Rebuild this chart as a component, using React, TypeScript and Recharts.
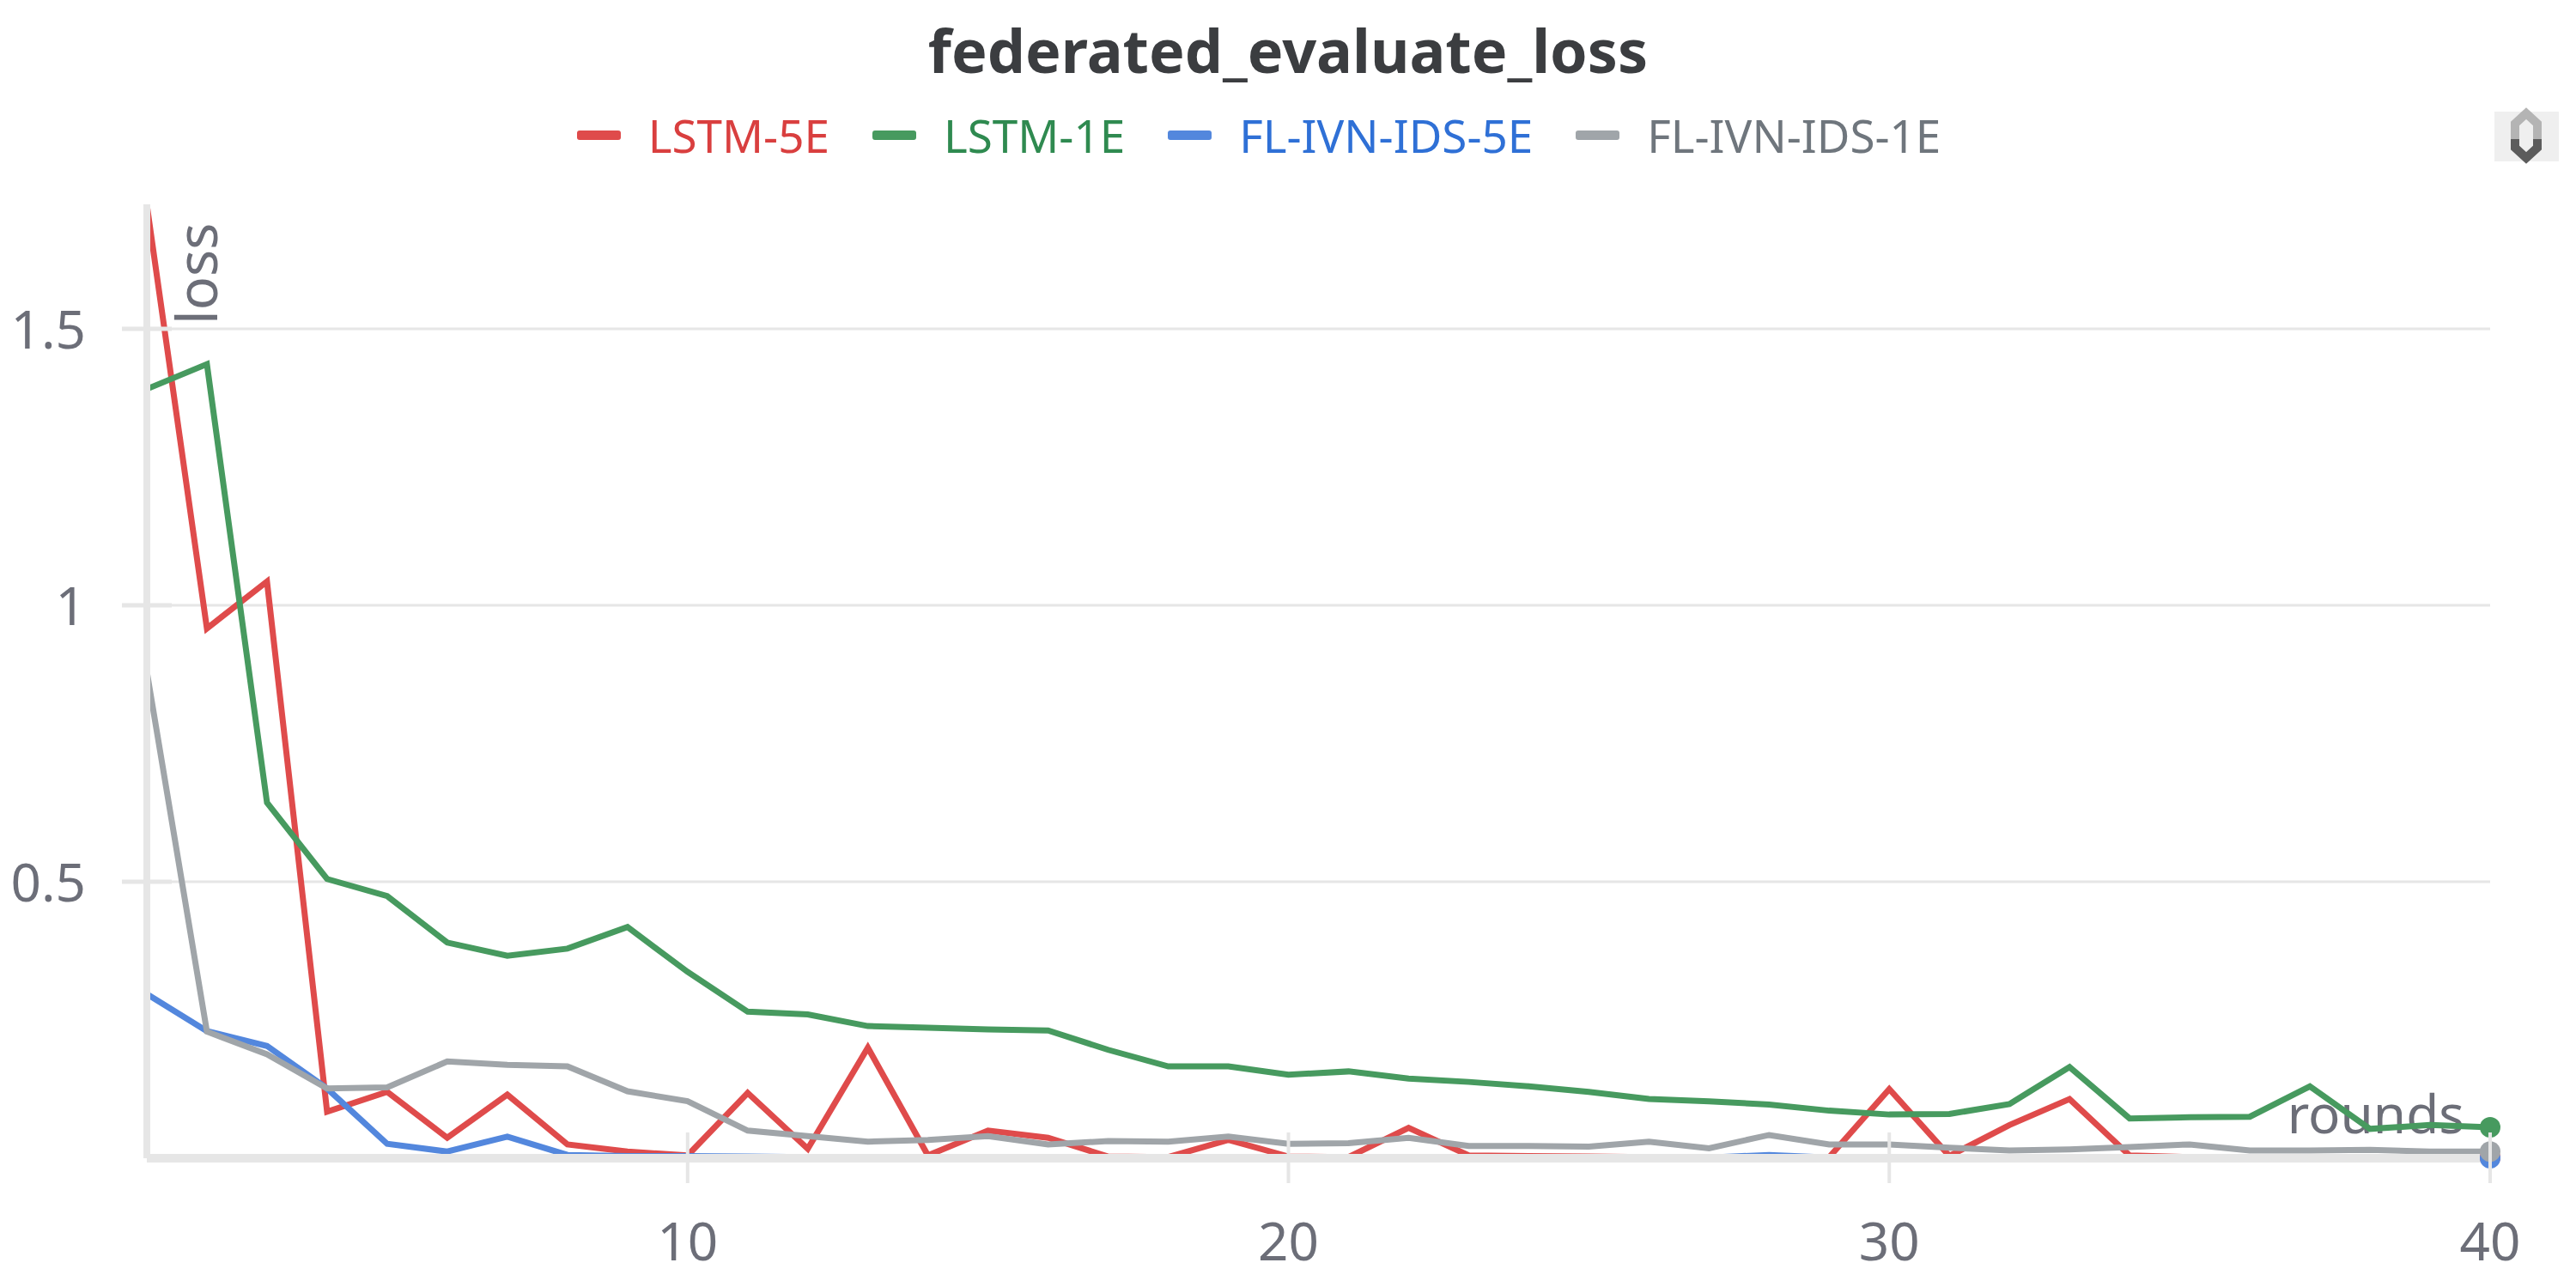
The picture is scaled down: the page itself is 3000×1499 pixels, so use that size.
import { LineChart, Line, XAxis, YAxis, CartesianGrid, Legend } from 'recharts';

const rounds = [1, 2, 3, 4, 5, 6, 7, 8, 9, 10, 11, 12, 13, 14, 15, 16, 17, 18, 19, 20, 21, 22, 23, 24, 25, 26, 27, 28, 29, 30, 31, 32, 33, 34, 35, 36, 37, 38, 39, 40];

const lstm5e = [1.724, 0.958, 1.043, 0.084, 0.12, 0.037, 0.115, 0.025, 0.012, 0.005, 0.118, 0.017, 0.2, 0.005, 0.05, 0.037, 0.003, 0.002, 0.033, 0.003, 0.002, 0.055, 0.005, 0.004, 0.003, 0.002, 0.001, 0.001, 0.002, 0.125, 0.004, 0.06, 0.107, 0.005, 0.002, 0.001, 0.001, 0.001, 0.001, 0.001];
const lstm1e = [1.391, 1.436, 0.643, 0.505, 0.474, 0.39, 0.366, 0.379, 0.418, 0.337, 0.265, 0.26, 0.239, 0.236, 0.233, 0.231, 0.196, 0.166, 0.166, 0.151, 0.157, 0.144, 0.138, 0.13, 0.12, 0.107, 0.103, 0.097, 0.086, 0.079, 0.08, 0.098, 0.165, 0.072, 0.074, 0.075, 0.13, 0.053, 0.06, 0.056];
const flIvn5e = [0.297, 0.23, 0.203, 0.126, 0.026, 0.012, 0.039, 0.006, 0.004, 0.004, 0.003, 0.002, 0.001, 0.001, 0.001, 0.001, 0.001, 0.001, 0.001, 0.001, 0.001, 0.001, 0.001, 0.001, 0.001, 0.001, 0.001, 0.006, 0.001, 0.001, 0.001, 0.001, 0.001, 0.001, 0.001, 0.001, 0.001, 0.001, 0.001, 0];
const flIvn1e = [0.88, 0.229, 0.188, 0.126, 0.128, 0.175, 0.169, 0.166, 0.121, 0.103, 0.05, 0.04, 0.03, 0.033, 0.04, 0.025, 0.031, 0.03, 0.039, 0.026, 0.027, 0.037, 0.022, 0.022, 0.021, 0.03, 0.018, 0.042, 0.025, 0.025, 0.019, 0.014, 0.016, 0.02, 0.025, 0.014, 0.014, 0.015, 0.012, 0.012];

const xTicks = [10, 20, 30, 40];
const yTicks = [0.5, 1, 1.5];

const chartData = rounds.map((round, i) => ({
  round,
  lstm5e: lstm5e[i],
  lstm1e: lstm1e[i],
  flIvn5e: flIvn5e[i],
  flIvn1e: flIvn1e[i],
}));

const FONT = '"Noto Sans", sans-serif';
const AXIS_COLOR = '#e6e6e6';
const TEXT_COLOR = '#6c6e78';

const legendItems = [
  { name: 'LSTM-5E', line: '#df4b4b', text: '#d93f3f' },
  { name: 'LSTM-1E', line: '#479a5f', text: '#2f8a50' },
  { name: 'FL-IVN-IDS-5E', line: '#5387dd', text: '#2f70d6' },
  { name: 'FL-IVN-IDS-1E', line: '#a0a5a9', text: '#6f767d' },
];

function XTick({ x, y, payload }: any) {
  return (
    <g>
      <line x1={x} x2={x} y1={y - 30} y2={y + 29} stroke={AXIS_COLOR} strokeWidth={4} />
      <text x={x} y={y + 119} textAnchor="middle" fontSize={62} fontFamily={FONT} fill={TEXT_COLOR}>
        {payload.value}
      </text>
    </g>
  );
}

function YTick({ y, payload }: any) {
  return (
    <g>
      <line x1={142} x2={200} y1={y} y2={y} stroke={AXIS_COLOR} strokeWidth={5} />
      <text x={100} y={y + 23} textAnchor="end" fontSize={62} fontFamily={FONT} fill={TEXT_COLOR}>
        {payload.value}
      </text>
    </g>
  );
}

function endDot(color: string) {
  return ({ cx, cy, index }: any) =>
    index === rounds.length - 1 ? (
      <circle key={index} cx={cx} cy={cy} r={12} fill={color} />
    ) : (
      <g key={index} />
    );
}

function ChartLegend() {
  return (
    <div style={{ display: 'flex', justifyContent: 'center', gap: 50, fontFamily: FONT, fontSize: 53 }}>
      {legendItems.map((item) => (
        <div key={item.name} style={{ display: 'flex', alignItems: 'center', color: item.text }}>
          <span style={{ width: 51, height: 11, borderRadius: 3, background: item.line, marginRight: 32 }} />
          {item.name}
        </div>
      ))}
    </div>
  );
}

function ScrollIcon() {
  return (
    <div style={{ position: 'absolute', left: 2905, top: 130, width: 75, height: 58, background: '#efefef' }}>
      <svg width={75} height={58} style={{ position: 'absolute', top: 0, left: 0, overflow: 'visible' }}>
        <polyline points="24,32 24,14 37,2 50,14 50,32" fill="none" stroke="#b4b4b4" strokeWidth={10} />
        <polyline points="24,32 24,42 37,54 50,42 50,32" fill="none" stroke="#5c5c5c" strokeWidth={10} />
      </svg>
    </div>
  );
}

export default function App() {
  return (
    <div style={{ position: 'absolute', left: 0, top: 0, width: 3000, height: 1499, background: '#fff' }}>
      <LineChart width={3000} height={1499} data={chartData} margin={{ top: 238, right: 100, bottom: 0, left: 0 }}>
        <CartesianGrid horizontal vertical={false} horizontalValues={yTicks} stroke={AXIS_COLOR} strokeWidth={3} />
        <Line dataKey="lstm5e" name="LSTM-5E" stroke="#df4b4b" strokeWidth={7} strokeLinejoin="miter" dot={endDot('#df4b4b')} isAnimationActive={false} />
        <Line dataKey="lstm1e" name="LSTM-1E" stroke="#479a5f" strokeWidth={7} strokeLinejoin="miter" dot={endDot('#479a5f')} isAnimationActive={false} />
        <Line dataKey="flIvn5e" name="FL-IVN-IDS-5E" stroke="#5387dd" strokeWidth={7} strokeLinejoin="miter" dot={endDot('#5387dd')} isAnimationActive={false} />
        <Line dataKey="flIvn1e" name="FL-IVN-IDS-1E" stroke="#a0a5a9" strokeWidth={7} strokeLinejoin="miter" dot={endDot('#a0a5a9')} isAnimationActive={false} />
        <XAxis
          dataKey="round"
          type="number"
          domain={[1, 40]}
          ticks={xTicks}
          height={150}
          tickSize={0}
          tickMargin={0}
          tickLine={false}
          axisLine={{ stroke: AXIS_COLOR, strokeWidth: 10 }}
          tick={<XTick />}
          interval={0}
        />
        <YAxis
          type="number"
          domain={[0, 1.725]}
          ticks={yTicks}
          width={171}
          tickSize={0}
          tickMargin={0}
          tickLine={false}
          axisLine={{ stroke: AXIS_COLOR, strokeWidth: 8 }}
          tick={<YTick />}
          interval={0}
        />
        <Legend content={<ChartLegend />} wrapperStyle={{ left: 0, top: 121, width: 2932, height: 0, bottom: 'auto' }} />
        <text x={1500} y={85} textAnchor="middle" fontSize={70} fontWeight={700} fontFamily={FONT} fill="#3b3d40">
          federated_evaluate_loss
        </text>
        <text x={253} y={378} transform="rotate(-90 253 378)" fontSize={65} fontFamily={FONT} fill={TEXT_COLOR}>
          loss
        </text>
        <text x={2870} y={1320} textAnchor="end" fontSize={62} fontFamily={FONT} fill={TEXT_COLOR}>
          rounds
        </text>
      </LineChart>
      <ScrollIcon />
    </div>
  );
}
